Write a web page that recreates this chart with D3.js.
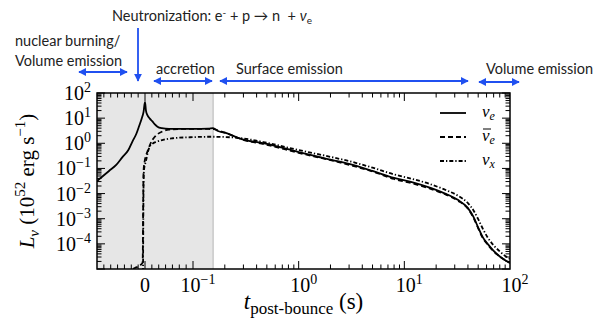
<!DOCTYPE html>
<html>
<head>
<meta charset="utf-8">
<script src="https://cdn.jsdelivr.net/npm/d3@7/dist/d3.min.js"></script>
<style>
  body { margin: 0; background: #fff; }
  svg { display: block; }
</style>
</head>
<body>
<svg id="chart"></svg>
<script>
// neutrino luminosity curves: [t post-bounce (s), log10 L (1e52 erg/s)]
const nueCurve = [
  [-0.1, -1.5], [-0.075, -1.1], [-0.06, -0.86], [-0.047, -0.55], [-0.035, -0.28],
  [-0.026, 0.08], [-0.018, 0.38], [-0.012, 0.7], [-0.007, 0.98], [-0.003, 1.25],
  [0, 1.65], [0.002, 1.3], [0.005, 1.12], [0.01, 0.98], [0.015, 0.88], [0.02, 0.76],
  [0.026, 0.66], [0.035, 0.6], [0.05, 0.57], [0.1, 0.57], [0.14, 0.58], [0.155, 0.6],
  [0.17, 0.5], [0.2, 0.42], [0.3, 0.15], [0.5, -0.02], [1, -0.35], [2, -0.65],
  [3, -0.82], [5, -1.1], [8, -1.38], [12, -1.55], [18, -1.78], [25, -2.02], [32, -2.25],
  [40, -2.58], [45, -2.92], [50, -3.35], [55, -3.72], [62, -4.02], [70, -4.28],
  [80, -4.5], [90, -4.65], [100, -4.75]
];
const nuebarCurve = [
  [-0.07, -5.4], [-0.04, -5.12], [-0.02, -4.95], [-0.01, -4.85], [-0.005, -4.75],
  [-0.0045, -4.3], [-0.004, -3.0], [-0.0035, -1.8], [-0.003, -1.1], [-0.001, -0.75],
  [0.002, -0.5], [0.005, -0.33], [0.01, -0.08], [0.015, 0.12], [0.02, 0.25],
  [0.026, 0.36], [0.035, 0.46], [0.05, 0.54], [0.08, 0.57], [0.1, 0.57], [0.14, 0.57],
  [0.155, 0.56], [0.2, 0.42], [0.3, 0.14], [0.5, -0.06], [1, -0.38], [2, -0.67],
  [3, -0.86], [5, -1.12], [8, -1.42], [12, -1.6], [18, -1.82], [25, -2.05], [32, -2.28],
  [40, -2.6], [45, -2.95], [50, -3.38], [55, -3.75], [62, -4.05], [70, -4.3],
  [80, -4.5], [90, -4.65], [100, -4.76]
];
const nuxCurve = [
  [-0.0042, -5.5], [-0.0038, -4.0], [-0.0034, -2.6], [-0.003, -1.6], [-0.002, -1.05],
  [0, -0.85], [0.003, -0.62], [0.006, -0.35], [0.009, -0.17], [0.015, -0.03],
  [0.024, 0.06], [0.04, 0.15], [0.058, 0.2], [0.094, 0.24], [0.15, 0.26], [0.2, 0.25],
  [0.3, 0.19], [0.5, 0.02], [1, -0.27], [2, -0.54], [3, -0.71], [5, -0.97], [8, -1.24],
  [12, -1.42], [18, -1.64], [25, -1.87], [32, -2.08], [40, -2.38], [45, -2.66],
  [50, -3.02], [55, -3.38], [62, -3.77], [70, -4.06], [80, -4.3], [90, -4.48], [100, -4.6]
];

const xLinearMajor = [0];
const xLogMajor = [0.1, 1, 10, 100];
const xLogLabels = ["−1", "0", "1", "2"];
const yDecades = [-5, -4, -3, -2, -1, 0, 1, 2];
const yLabelDecades = [-4, -3, -2, -1, 0, 1, 2];
const accretionEnd = 0.155;
const legendKeys = ["nue", "nuebar", "nux"];
const legendSubs = ["e", "e", "x"];

const width = 597, height = 323;
const svg = d3.select("#chart").attr("width", width).attr("height", height);
const plot = { left: 97, right: 510, top: 93, bottom: 269 };
const breakPx = plot.left + 96;

// linear part around bounce, log part after 0.1 s
const xLin = d3.scaleLinear().domain([-0.1, 0.1]).range([plot.left, breakPx]);
const xLog = d3.scaleLog().domain([0.1, 100]).range([breakPx, plot.right]);
const x = (t) => (t <= 0.1 ? xLin(t) : xLog(t));
const y = d3.scaleLog().domain([1e-5, 1e2]).range([plot.bottom, plot.top]);

const serif = "'Liberation Serif', 'Times New Roman', serif";
const sans = "Lato, 'Open Sans', sans-serif";
const blue = "#2050f0";

svg.append("defs").append("clipPath").attr("id", "clip")
  .append("rect")
  .attr("x", plot.left).attr("y", plot.top)
  .attr("width", plot.right - plot.left).attr("height", plot.bottom - plot.top);

svg.select("defs").append("marker")
  .attr("id", "arrow")
  .attr("viewBox", "0 0 10 10")
  .attr("refX", 9).attr("refY", 5)
  .attr("markerUnits", "userSpaceOnUse")
  .attr("markerWidth", 8).attr("markerHeight", 8)
  .attr("orient", "auto-start-reverse")
  .append("path").attr("d", "M0,0 L10,5 L0,10 z").attr("fill", blue);

// shaded pre-bounce / accretion region
svg.append("rect")
  .attr("x", x(-0.1)).attr("y", plot.top)
  .attr("width", x(accretionEnd) - x(-0.1)).attr("height", plot.bottom - plot.top)
  .attr("fill", "#e6e6e6");
svg.append("line")
  .attr("x1", x(accretionEnd)).attr("x2", x(accretionEnd))
  .attr("y1", plot.top).attr("y2", plot.bottom)
  .attr("stroke", "#b4b4b4").attr("stroke-width", 1);

// ticks
const xMinor = d3.range(1, 14).filter((i) => i !== 7).map((i) => -0.1 + (i * 0.1) / 7);
xLogMajor.slice(0, 3).forEach((d) => d3.range(2, 10).forEach((m) => xMinor.push(m * d)));
const xMajor = xLinearMajor.concat(xLogMajor.slice(0, 3));
const yMinor = [];
yDecades.slice(0, -1).forEach((e) => d3.range(2, 10).forEach((m) => yMinor.push(m * Math.pow(10, e))));
const yMajor = yDecades.map((e) => Math.pow(10, e));

const ticks = svg.append("g").attr("stroke", "#000").attr("stroke-width", 1);
const xTicks = xMajor.map((t) => ({ t, len: 8 })).concat(xMinor.map((t) => ({ t, len: 4.5 })));
ticks.selectAll(".xb").data(xTicks).join("line")
  .attr("x1", (d) => x(d.t)).attr("x2", (d) => x(d.t))
  .attr("y1", plot.bottom).attr("y2", (d) => plot.bottom - d.len);
ticks.selectAll(".xt").data(xTicks).join("line")
  .attr("x1", (d) => x(d.t)).attr("x2", (d) => x(d.t))
  .attr("y1", plot.top).attr("y2", (d) => plot.top + d.len);
const yTicks = yMajor.map((v) => ({ v, len: 8 })).concat(yMinor.map((v) => ({ v, len: 4.5 })));
ticks.selectAll(".yl").data(yTicks).join("line")
  .attr("y1", (d) => y(d.v)).attr("y2", (d) => y(d.v))
  .attr("x1", plot.left).attr("x2", (d) => plot.left + d.len);
ticks.selectAll(".yr").data(yTicks).join("line")
  .attr("y1", (d) => y(d.v)).attr("y2", (d) => y(d.v))
  .attr("x1", plot.right).attr("x2", (d) => plot.right - d.len);

// curves
const line = d3.line()
  .x((d) => x(d[0]))
  .y((d) => y(Math.pow(10, d[1])))
  .curve(d3.curveMonotoneX);
const curves = svg.append("g").attr("clip-path", "url(#clip)")
  .attr("fill", "none").attr("stroke", "#000").attr("stroke-width", 1.8);
const dashes = { nue: null, nuebar: "5,3", nux: "4,2,1.3,2" };
const curveData = { nue: nueCurve, nuebar: nuebarCurve, nux: nuxCurve };
["nux", "nuebar", "nue"].forEach((k) => {
  curves.append("path").attr("d", line(curveData[k])).attr("stroke-dasharray", dashes[k]);
});

// frame
svg.append("rect")
  .attr("x", plot.left).attr("y", plot.top)
  .attr("width", plot.right - plot.left).attr("height", plot.bottom - plot.top)
  .attr("fill", "none").attr("stroke", "#000").attr("stroke-width", 1.5);

// tick labels
function pow10(sel, exp) {
  sel.append("tspan").text("10");
  sel.append("tspan").attr("dy", -8).attr("font-size", 14).text(exp);
}
const yLab = svg.append("g").attr("font-family", serif).attr("font-size", 20).attr("fill", "#000");
yLabelDecades.forEach((e) => {
  const t = yLab.append("text")
    .attr("x", 91).attr("y", y(Math.pow(10, e)) + 7)
    .attr("text-anchor", "end");
  pow10(t, String(e).replace("-", "−"));
});
const xLab = svg.append("g").attr("font-family", serif).attr("font-size", 20).attr("fill", "#000");
xLinearMajor.forEach((t) => {
  xLab.append("text").attr("x", x(t)).attr("y", 292).attr("text-anchor", "middle").text("0");
});
xLogMajor.forEach((t, i) => {
  const el = xLab.append("text").attr("x", x(t) + 5).attr("y", 292).attr("text-anchor", "middle");
  pow10(el, xLogLabels[i]);
});

// axis titles
const xt = svg.append("text").attr("font-family", serif).attr("font-size", 23)
  .attr("x", (plot.left + plot.right) / 2).attr("y", 309).attr("text-anchor", "middle");
xt.append("tspan").attr("font-style", "italic").text("t");
xt.append("tspan").attr("font-size", 17).attr("dy", 5).text("post-bounce");
xt.append("tspan").attr("dy", -5).text(" (s)");

const yt = svg.append("text").attr("font-family", serif).attr("font-size", 21)
  .attr("text-anchor", "middle")
  .attr("transform", `translate(34,${(plot.top + plot.bottom) / 2}) rotate(-90)`);
yt.append("tspan").attr("font-style", "italic").text("L");
yt.append("tspan").attr("font-style", "italic").attr("font-size", 15).attr("dy", 5).text("ν");
yt.append("tspan").attr("dy", -5).text(" (10");
yt.append("tspan").attr("font-size", 15).attr("dy", -9).text("52");
yt.append("tspan").attr("dy", 9).text(" erg s");
yt.append("tspan").attr("font-size", 15).attr("dy", -9).text("−1");
yt.append("tspan").attr("dy", 9).text(")");

// legend
const legend = svg.append("g");
legendKeys.forEach((k, i) => {
  const ly = 113 + i * 24;
  legend.append("line")
    .attr("x1", 440).attr("x2", 466).attr("y1", ly).attr("y2", ly)
    .attr("stroke", "#000").attr("stroke-width", 1.8).attr("stroke-dasharray", dashes[k]);
  const lt = legend.append("text").attr("x", 482).attr("y", ly + 4)
    .attr("font-family", serif).attr("font-size", 17).attr("font-style", "italic");
  lt.append("tspan").text("ν");
  lt.append("tspan").attr("font-size", 12).attr("dy", 3).text(legendSubs[i]);
  if (k === "nuebar") {
    legend.append("line").attr("x1", 483).attr("x2", 491).attr("y1", ly - 8).attr("y2", ly - 8)
      .attr("stroke", "#000").attr("stroke-width", 1);
  }
});

// phase annotations
const ann = svg.append("g").attr("font-family", sans).attr("font-size", 14.5).attr("fill", "#222");
const nt = ann.append("text").attr("x", 112).attr("y", 21).attr("xml:space", "preserve");
nt.append("tspan").text("Neutronization: e");
nt.append("tspan").attr("font-size", 10).attr("dy", -5).text("-");
nt.append("tspan").attr("dy", 5).text(" + p → n  + ");
nt.append("tspan").attr("font-style", "italic").text("ν");
nt.append("tspan").attr("font-size", 10).attr("dy", 3).text("e");
ann.append("text").attr("x", 15).attr("y", 46).text("nuclear burning/");
ann.append("text").attr("x", 15).attr("y", 66).text("Volume emission");
ann.append("text").attr("x", 156).attr("y", 74).text("accretion");
ann.append("text").attr("x", 236).attr("y", 74).text("Surface emission");
ann.append("text").attr("x", 486).attr("y", 74).text("Volume emission");

const arrows = svg.append("g").attr("stroke", blue).attr("stroke-width", 1.8);
const arrowSpecs = [
  [138, 28, 138, 81, false],
  [79, 72, 127, 72, true],
  [154, 81, 212, 81, true],
  [220, 81, 468, 81, true],
  [479, 82, 519, 82, true]
];
arrowSpecs.forEach(([ax1, ay1, ax2, ay2, both]) => {
  const l = arrows.append("line")
    .attr("x1", ax1).attr("y1", ay1).attr("x2", ax2).attr("y2", ay2)
    .attr("marker-end", "url(#arrow)");
  if (both) l.attr("marker-start", "url(#arrow)");
});
</script>
</body>
</html>
